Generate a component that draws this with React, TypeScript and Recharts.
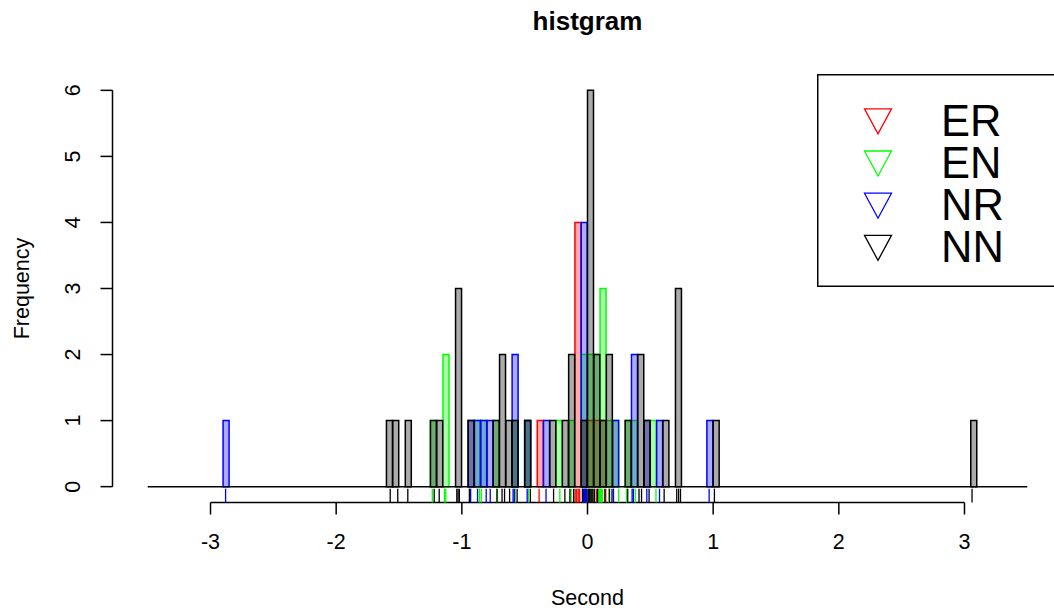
import React from 'react';
import { ComposedChart, Bar, XAxis, YAxis, ReferenceLine, Legend, Label } from 'recharts';

const TITLE = 'histgram';
const X_TITLE = 'Second';
const Y_TITLE = 'Frequency';
const SERIES = ['ER', 'EN', 'NR', 'NN'];

const ER_VALUES = [-0.385, -0.098, -0.086, -0.074, -0.062, -0.018, 0.012, 0.07, 0.145];
const EN_VALUES = [-1.235, -1.138, -1.128, -0.86, -0.845, -0.72, -0.575, -0.47, -0.22, -0.13, -0.04, -0.012, 0.02, 0.038, 0.088, 0.096, 0.104, 0.112, 0.118, 0.17, 0.248, 0.31, 0.38, 0.545];
const NR_VALUES = [-2.88, -0.93, -0.875, -0.806, -0.774, -0.592, -0.582, -0.48, -0.33, -0.032, -0.024, -0.016, -0.008, 0.207, 0.355, 0.365, 0.472, 0.573, 0.968];
const NN_VALUES = [-1.57, -1.51, -1.43, -1.22, -1.18, -1.04, -1.03, -1.02, -0.94, -0.72, -0.68, -0.66, -0.62, -0.56, -0.455, -0.27, -0.18, -0.14, -0.11, -0.04, 0.003, 0.01, 0.018, 0.027, 0.035, 0.044, 0.055, 0.08, 0.138, 0.175, 0.195, 0.32, 0.41, 0.43, 0.49, 0.61, 0.71, 0.725, 0.74, 1.01, 3.06];

const BREAK_MIN = -3.5;
const BREAK_MAX = 3.5;
const BIN_WIDTH = 0.05;
const X_TICKS = [-3, -2, -1, 0, 1, 2, 3];
const Y_TICKS = [0, 1, 2, 3, 4, 5, 6];
const X_DOMAIN: [number, number] = [-3.78, 3.78];
const Y_DOMAIN: [number, number] = [-0.24, 6.24];
const RUG_TOP = -0.03;

const VALUES: Record<string, number[]> = { ER: ER_VALUES, EN: EN_VALUES, NR: NR_VALUES, NN: NN_VALUES };

const STYLE: Record<string, { stroke: string; fill: string }> = {
  ER: { stroke: '#FF0000', fill: 'rgba(255,0,0,0.33)' },
  EN: { stroke: '#00FF00', fill: 'rgba(0,255,0,0.33)' },
  NR: { stroke: '#0000FF', fill: 'rgba(0,0,255,0.33)' },
  NN: { stroke: '#000000', fill: 'rgba(0,0,0,0.33)' },
};

const FONT = "'Liberation Sans', Arial, Helvetica, sans-serif";

const NBINS = Math.round((BREAK_MAX - BREAK_MIN) / BIN_WIDTH);
const binData: any[] = Array.from({ length: NBINS }, (_, i) => {
  const row: any = { x: BREAK_MIN + (i + 0.5) * BIN_WIDTH };
  SERIES.forEach((s) => (row[s] = 0));
  return row;
});
SERIES.forEach((s) =>
  VALUES[s].forEach((v) => {
    const i = Math.floor((v - BREAK_MIN) / BIN_WIDTH);
    if (i >= 0 && i < NBINS) binData[i][s] += 1;
  })
);

const YTick = (props: any) => {
  const { x, y, payload } = props;
  return (
    <text x={x} y={y} transform={`rotate(-90 ${x} ${y})`} textAnchor="middle" fontSize={21.5} fontFamily={FONT} fill="#000">
      {payload.value}
    </text>
  );
};

const XTitle = (props: any) => {
  const vb = props.viewBox || { x: 0, y: 0, width: 0, height: 0 };
  return (
    <text x={vb.x + vb.width / 2} y={vb.y + 102.5} textAnchor="middle" fontSize={21.5} fontFamily={FONT} fill="#000">
      {X_TITLE}
    </text>
  );
};

const YTitle = (props: any) => {
  const vb = props.viewBox || { x: 0, y: 0, width: 0, height: 0 };
  const x = vb.x + 16;
  const y = vb.y + vb.height / 2;
  return (
    <text x={x} y={y} transform={`rotate(-90 ${x} ${y})`} textAnchor="middle" fontSize={21.5} fontFamily={FONT} fill="#000">
      {Y_TITLE}
    </text>
  );
};

const LegendBox = (props: any) => {
  const names: string[] = (props.payload || []).map((p: any) => String(p.value));
  const items = SERIES.filter((s) => names.indexOf(s) >= 0);
  return (
    <svg width={250} height={214} style={{ display: 'block' }}>
      <rect x={0.75} y={0.75} width={246} height={211.5} fill="#fff" stroke="#000" strokeWidth={1.5} />
      {items.map((name, i) => {
        const cx = 61;
        const cy = 47.3 + i * 42.2;
        const st = STYLE[name] || STYLE.NN;
        return (
          <g key={name}>
            <polygon
              points={`${cx - 13.5},${cy - 12.5} ${cx + 13.5},${cy - 12.5} ${cx},${cy + 12.5}`}
              fill="none"
              stroke={st.stroke}
              strokeWidth={1.3}
            />
            <text x={124} y={61.5 + i * 42.2} fontSize={43.5} fontFamily={FONT} fill="#000">
              {name}
            </text>
          </g>
        );
      })}
    </svg>
  );
};

export default function App() {
  return (
    <div style={{ position: 'absolute', left: 0, top: 0, width: 1054, height: 610, overflow: 'hidden', background: '#fff' }}>
      <ComposedChart
        width={1064}
        height={610}
        data={binData}
        margin={{ top: 74.5, right: 1.5, bottom: 47.5, left: 12.5 }}
        barCategoryGap={0}
        barGap={0}
      >
        <XAxis
          xAxisId="nn"
          type="number"
          dataKey="x"
          domain={X_DOMAIN}
          allowDataOverflow
          ticks={X_TICKS}
          interval={0}
          axisLine={false}
          stroke="#000"
          tickLine={{ stroke: '#000', strokeWidth: 1.5 }}
          tickSize={12}
          tickMargin={19}
          height={60}
          tick={{ fill: '#000', fontSize: 21.5, fontFamily: FONT }}
        >
          <Label content={XTitle} />
        </XAxis>
        {['er', 'en', 'nr'].map((id) => (
          <XAxis key={id} xAxisId={id} type="number" dataKey="x" domain={X_DOMAIN} allowDataOverflow hide height={0} />
        ))}
        <YAxis
          yAxisId="y"
          type="number"
          domain={Y_DOMAIN}
          allowDataOverflow
          ticks={Y_TICKS}
          interval={0}
          width={100}
          axisLine={false}
          stroke="#000"
          tickLine={{ stroke: '#000', strokeWidth: 1.5 }}
          tickSize={12}
          tickMargin={20.5}
          tick={<YTick />}
        >
          <Label content={YTitle} />
        </YAxis>

        {SERIES.map((s) => (
          <Bar
            key={s}
            xAxisId={s.toLowerCase()}
            yAxisId="y"
            dataKey={s}
            name={s}
            fill={STYLE[s].fill}
            stroke={STYLE[s].stroke}
            strokeWidth={1.5}
            isAnimationActive={false}
          />
        ))}

        <ReferenceLine
          xAxisId="nn"
          yAxisId="y"
          ifOverflow="visible"
          segment={[{ x: BREAK_MIN, y: 0 }, { x: BREAK_MAX, y: 0 }]}
          stroke="#000"
          strokeWidth={1.5}
        />
        <ReferenceLine
          xAxisId="nn"
          yAxisId="y"
          ifOverflow="visible"
          segment={[{ x: X_TICKS[0], y: Y_DOMAIN[0] }, { x: X_TICKS[X_TICKS.length - 1], y: Y_DOMAIN[0] }]}
          stroke="#000"
          strokeWidth={1.5}
        />
        <ReferenceLine
          xAxisId="nn"
          yAxisId="y"
          ifOverflow="visible"
          segment={[{ x: X_DOMAIN[0], y: Y_TICKS[0] }, { x: X_DOMAIN[0], y: Y_TICKS[Y_TICKS.length - 1] }]}
          stroke="#000"
          strokeWidth={1.5}
        />
        {SERIES.map((s) =>
          VALUES[s].map((v, i) => (
            <ReferenceLine
              key={`rug-${s}-${i}`}
              xAxisId="nn"
              yAxisId="y"
              ifOverflow="visible"
              segment={[{ x: v, y: Y_DOMAIN[0] }, { x: v, y: RUG_TOP }]}
              stroke={STYLE[s].stroke}
              strokeWidth={1.3}
            />
          ))
        )}

        <Legend
          layout="vertical"
          align="center"
          verticalAlign="middle"
          itemSorter={null as any}
          content={LegendBox}
          wrapperStyle={{ position: 'absolute', left: 816.5, top: 73.5, width: 250, height: 214, margin: 0, padding: 0 }}
        />
      </ComposedChart>
      <svg width={1054} height={60} style={{ position: 'absolute', left: 0, top: 0, pointerEvents: 'none' }}>
        <text x={587.5} y={29.5} textAnchor="middle" fontSize={26} fontWeight="bold" fontFamily={FONT} fill="#000">
          {TITLE}
        </text>
      </svg>
    </div>
  );
}
